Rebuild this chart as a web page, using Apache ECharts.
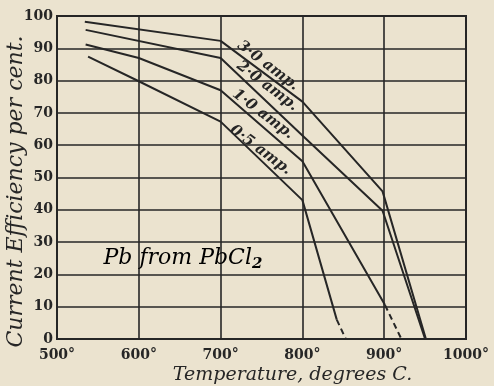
<!DOCTYPE html>
<html>
<head>
<meta charset="utf-8">
<script src="https://cdn.jsdelivr.net/npm/echarts@6/dist/echarts.min.js"></script>
<style>
  html, body { margin: 0; padding: 0; background: #ebe3cf; }
  #chart { width: 494px; height: 386px; }
</style>
</head>
<body>
<div id="chart"></div>
<script>
// Temperature (°C) vs. current efficiency (%) for lead from PbCl2 at four currents
const xTicks = [500, 600, 700, 800, 900, 1000];
const yTicks = [0, 10, 20, 30, 40, 50, 60, 70, 80, 90, 100];

const amp30 = [[534, 98.2], [700, 92.3], [800, 73.5], [898, 45.7], [951, 0]];
const amp20 = [[535, 95.7], [700, 87.0], [800, 63.0], [898, 39.7], [950, 0]];
const amp10 = [[535, 91.2], [600, 87.0], [700, 77.0], [800, 55.0], [901, 10.5]];
const amp10Extrapolated = [[901, 10.5], [921, 0]];
const amp05 = [[538, 87.4], [600, 79.8], [700, 67.3], [800, 43.0], [842, 6.0]];
const amp05Extrapolated = [[842, 6.0], [853, 0]];

// label text and the data point each label sits at
const curveLabels = [
  { text: '3·0 amp.', at: [758, 84.6] },
  { text: '2·0 amp.', at: [757, 78.3] },
  { text: '1·0 amp.', at: [752, 69.6] },
  { text: '0·5 amp.', at: [749, 58.5] }
];
const title = 'Pb from PbCl';
const titleAt = [654, 25];

const ink = '#262626';
const serif = '"DejaVu Serif", "Liberation Serif", serif';

const chart = echarts.init(document.getElementById('chart'));

function lineSeries(data, dashed) {
  return {
    type: 'line',
    data: data,
    symbol: 'none',
    silent: true,
    lineStyle: { color: ink, width: 2, type: dashed ? [6, 4] : 'solid' }
  };
}

chart.setOption({
  backgroundColor: '#ebe3cf',
  animation: false,
  grid: {
    left: 57, right: 28, top: 16, bottom: 47,
    containLabel: false, outerBoundsMode: 'none',
    show: true, borderColor: ink, borderWidth: 2, backgroundColor: 'transparent'
  },
  xAxis: {
    type: 'value',
    min: xTicks[0], max: xTicks[xTicks.length - 1], interval: 100,
    name: 'Temperature, degrees C.',
    nameLocation: 'middle', nameGap: 27, nameMoveOverlap: false,
    nameTextStyle: { fontFamily: serif, fontStyle: 'italic', fontSize: 19, color: ink, padding: [0, 0, 0, 62] },
    axisLine: { lineStyle: { color: ink, width: 2 } },
    axisTick: { show: false },
    axisLabel: {
      color: ink, fontFamily: serif, fontWeight: 'bold', fontSize: 14, margin: 9,
      formatter: v => v + '°'
    },
    splitLine: { lineStyle: { color: ink, width: 1.6 } }
  },
  yAxis: {
    type: 'value',
    min: yTicks[0], max: yTicks[yTicks.length - 1], interval: 10,
    name: 'Current Efficiency per cent.',
    nameLocation: 'middle', nameGap: 30, nameMoveOverlap: false,
    nameTextStyle: { fontFamily: serif, fontStyle: 'italic', fontSize: 22, color: ink, padding: [0, 28, 0, 0] },
    axisLine: { lineStyle: { color: ink, width: 2 } },
    axisTick: { show: false },
    axisLabel: { color: ink, fontFamily: serif, fontWeight: 'bold', fontSize: 14, margin: 4 },
    splitLine: { lineStyle: { color: ink, width: 1.6 } }
  },
  series: [
    lineSeries(amp30),
    lineSeries(amp20),
    lineSeries(amp10),
    lineSeries(amp10Extrapolated, true),
    lineSeries(amp05),
    lineSeries(amp05Extrapolated, true)
  ]
});

// slanted curve labels and the plot title, placed through the axis scales
const angle = -37 * Math.PI / 180;
const graphics = curveLabels.map(l => {
  const p = chart.convertToPixel({ gridIndex: 0 }, l.at);
  return {
    type: 'text', x: p[0], y: p[1], rotation: angle,
    style: {
      text: l.text, fill: ink, font: 'italic bold 15px ' + serif,
      align: 'center', verticalAlign: 'middle'
    }
  };
});
const tp = chart.convertToPixel({ gridIndex: 0 }, titleAt);
graphics.push({
  type: 'text', x: tp[0], y: tp[1],
  style: {
    text: '{t|' + title + '}{s|2}',
    align: 'center', verticalAlign: 'middle',
    rich: {
      t: { fontFamily: serif, fontStyle: 'italic', fontSize: 22, color: ink },
      s: { fontFamily: serif, fontStyle: 'italic', fontWeight: 'bold', fontSize: 15, color: ink, padding: [12, 0, 0, 0] }
    }
  }
});
chart.setOption({ graphic: graphics });
</script>
</body>
</html>
